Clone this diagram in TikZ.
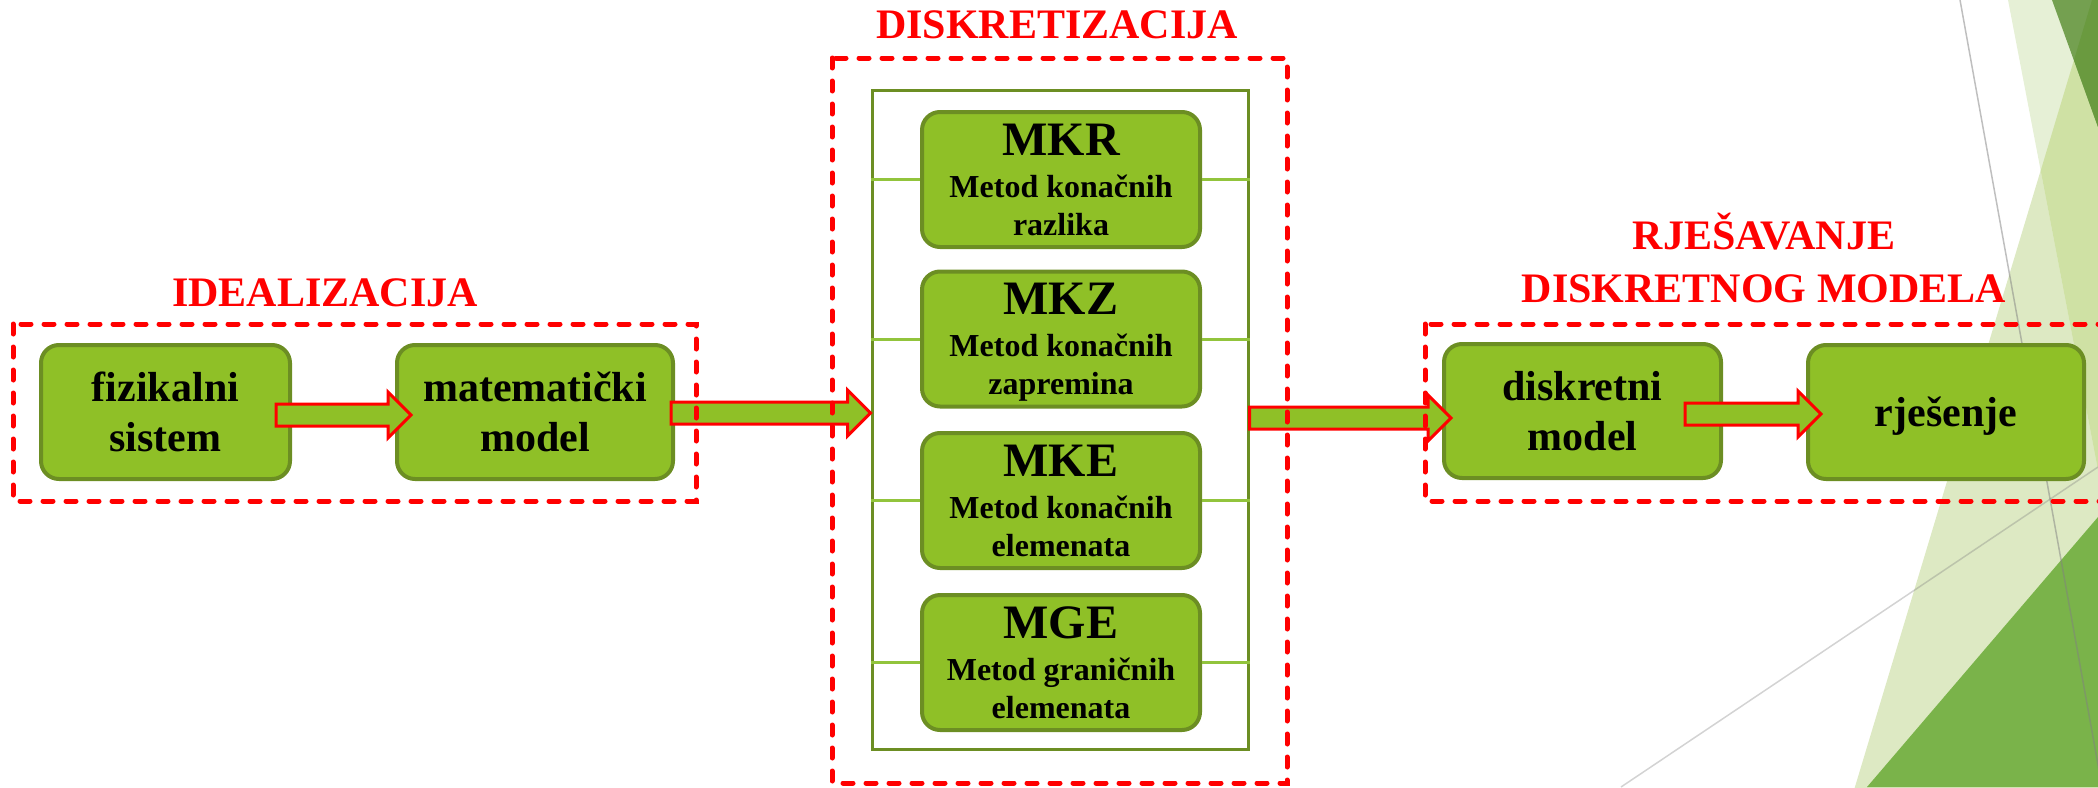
\documentclass[tikz,border=0pt]{standalone}
\usepackage{fontspec}
\setmainfont{Liberation Serif}
\usetikzlibrary{calc,fit}
\definecolor{boxfill}{RGB}{143,192,39}
\definecolor{boxline}{RGB}{108,142,35}
\definecolor{connline}{RGB}{146,196,60}
\definecolor{decoA}{RGB}{230,240,214}
\definecolor{decoB}{RGB}{221,233,195}
\definecolor{decoAB}{RGB}{207,225,164}
\definecolor{decoD}{RGB}{116,160,80}
\definecolor{decoDB}{RGB}{106,154,63}
\definecolor{decoC}{RGB}{122,179,74}
\tikzset{
 rbox/.style={draw=boxline, fill=boxfill, line width=2pt, rounded corners=9pt, minimum height=67pt, align=center, text depth=0pt, inner sep=0pt, font=\fontsize{21}{25}\selectfont\bfseries},
 mkbox/.style={draw=boxline, fill=boxfill, line width=2pt, rounded corners=9pt, minimum width=139pt, minimum height=67.5pt, align=center, text depth=0pt, inner sep=0pt, font=\fontsize{16}{19}\selectfont\bfseries},
 innerframe/.style={draw=boxline, line width=1.5pt, inner sep=0pt},
 conn/.style={draw=connline, line width=1.5pt},
 dashframe/.style={draw=red, line width=2.5pt, line cap=round, dash pattern=on 5pt off 6.5pt},
 ttl/.style={text=red, font=\fontsize{21}{26.5}\selectfont\bfseries, inner sep=0pt, align=center},
 barrow/.style={draw=red, fill=boxfill, line width=1.5pt, line join=miter},
 bigtxt/.style={font=\fontsize{24}{24}\selectfont\bfseries}
}
\newcommand\bigarrow[2]{\path[barrow] let \p1=#1, \p2=#2 in (\x1,\y1+5.5pt) -- (\x2-11.5pt,\y1+5.5pt) -- (\x2-11.5pt,\y1+11.5pt) -- (\x2,\y1) -- (\x2-11.5pt,\y1-11.5pt) -- (\x2-11.5pt,\y1-5.5pt) -- (\x1,\y1-5.5pt) -- cycle;}
\begin{document}
\begin{tikzpicture}[x=0.5pt, y=-0.5pt]
\useasboundingbox (0,0) rectangle (2098,787);
\clip (0,0) rectangle (2098,787);
% background decoration
\fill[decoB] (2092,0) -- (2110,0) -- (2110,800) -- (1851,800) -- cycle;
\fill[decoA] (2008,0) -- (2098,0) -- (2098,470) -- cycle;
\fill[decoAB] (2092,0) -- (2098,0) -- (2098,470) -- (2040.7,170.6) -- cycle;
\fill[decoD] (2052,0) -- (2098,0) -- (2098,127) -- cycle;
\fill[decoDB] (2092,0) -- (2098,0) -- (2098,127) -- (2074,60) -- cycle;
\fill[decoC] (2098,517) -- (1867,787) -- (2098,787) -- cycle;
\draw[gray, opacity=0.5, line width=0.75pt] (1960,0) -- (2102,787);
\draw[gray, opacity=0.35, line width=0.75pt] (1621,787) -- (2098,467);
% titles
\node[ttl, anchor=base] (t1) at (325,306) {IDEALIZACIJA};
\node[ttl, anchor=base] (t2) at (1057,38) {DISKRETIZACIJA};
\node[ttl, anchor=south, text depth=0pt] (t3) at (1764,303) {RJEŠAVANJE\\DISKRETNOG MODELA};
% main boxes
\node[rbox, minimum width=124.5pt] (fiz) at (165.5,412) {fizikalni\\sistem};
\node[rbox, minimum width=138pt] (mat) at (535,412) {matematički\\model};
\node[rbox, minimum width=138.5pt] (disk) at (1582.5,411) {diskretni\\model};
\node[rbox, minimum width=138pt] (rje) at (1946,412) {rješenje};
% discretization group
\coordinate (g1) at (872,90);
\coordinate (g2) at (1248,749);
\node[innerframe, fit=(g1)(g2)] (grp) {};
\node[mkbox] (mkr) at (1061,179.5) {{\fontsize{24}{24}\selectfont MKR}\\[2pt]Metod konačnih\\razlika};
\node[mkbox] (mkz) at (1061,339) {{\fontsize{24}{24}\selectfont MKZ}\\[2pt]Metod konačnih\\zapremina};
\node[mkbox] (mke) at (1061,500.5) {{\fontsize{24}{24}\selectfont MKE}\\[2pt]Metod konačnih\\elemenata};
\node[mkbox] (mge) at (1061,662.5) {{\fontsize{24}{24}\selectfont MGE}\\[2pt]Metod graničnih\\elemenata};
\foreach \b in {mkr,mkz,mke,mge}{
  \draw[conn] (grp.west |- \b.west) -- (\b.west);
  \draw[conn] (\b.east) -- (grp.east |- \b.east);
}
% block arrows
\bigarrow{($(fiz.east)+(-16,3)$)}{($(mat.west)+(16,3)$)}
\bigarrow{($(mat.east)+(-4,1)$)}{(grp.west)}
\bigarrow{($(grp.east)+(0,-1.5)$)}{($(disk.west)+(9,0)$)}
\bigarrow{($(disk.east)+(-38,3)$)}{($(rje.west)+(15,0)$)}
% dashed frames
\draw[dashframe] (13,324) rectangle (696,501);
\draw[dashframe] (832,58) rectangle (1287,783);
\draw[dashframe] (1425,324) rectangle (2130,501);
\end{tikzpicture}
\end{document}
